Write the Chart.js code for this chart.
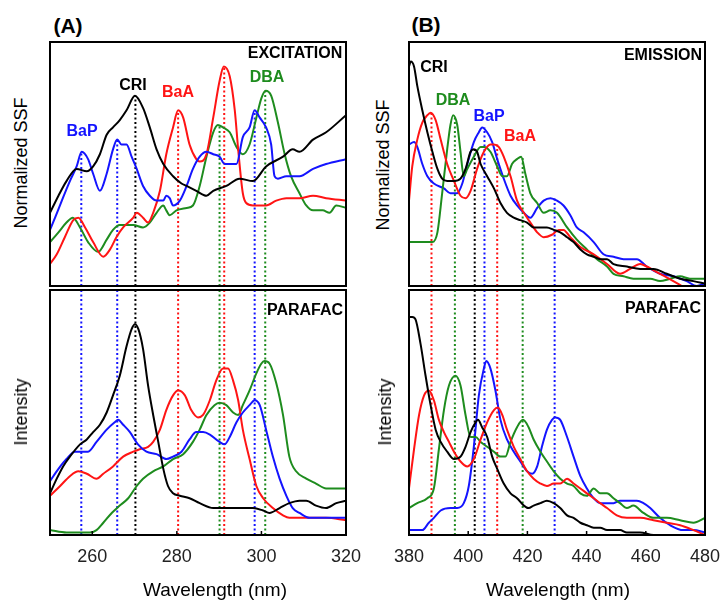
<!DOCTYPE html>
<html>
<head>
<meta charset="utf-8">
<script src="https://cdn.jsdelivr.net/npm/chart.js@4.4.1/dist/chart.umd.min.js"></script>
<style>
  html, body { margin: 0; padding: 0; background: #fff; overflow: hidden; }
  #wrap { position: relative; width: 722px; height: 602px; font-family: "Liberation Sans", Arial, sans-serif; }
  canvas { position: absolute; }
  .t { position: absolute; white-space: nowrap; transform: translate(-50%, -50%); line-height: 1; }
  .b { font-weight: bold; font-size: 16px; }
  .ytitle { font-size: 18px; transform: translate(-50%, -50%) rotate(-90deg); }
  .xtitle { font-size: 19px; }
  .panel { font-weight: bold; font-size: 21px; }
</style>
</head>
<body>
<div id="wrap">
  <canvas id="exTop" width="304" height="252" style="left:46px;top:38px"></canvas>
  <canvas id="exBot" width="336" height="299" style="left:30px;top:286px"></canvas>
  <canvas id="emTop" width="304" height="252" style="left:405px;top:38px"></canvas>
  <canvas id="emBot" width="336" height="299" style="left:389px;top:286px"></canvas>

  <div class="t panel" style="left:68px;top:25px">(A)</div>
  <div class="t panel" style="left:426px;top:24px">(B)</div>

  <div class="t ytitle" style="left:21px;top:163px">Normalized SSF</div>
  <div class="t ytitle" style="left:21px;top:412px">Intensity</div>
  <div class="t ytitle" style="left:383px;top:165px">Normalized SSF</div>
  <div class="t ytitle" style="left:385px;top:412px">Intensity</div>

  <div class="t xtitle" style="left:215px;top:589px">Wavelength (nm)</div>
  <div class="t xtitle" style="left:558px;top:589px">Wavelength (nm)</div>

  <div class="t b" style="left:295px;top:53px">EXCITATION</div>
  <div class="t b" style="left:663px;top:55px">EMISSION</div>
  <div class="t b" style="left:305px;top:310px">PARAFAC</div>
  <div class="t b" style="left:663px;top:308px">PARAFAC</div>

  <div class="t b" style="left:133px;top:85px;color:#000">CRI</div>
  <div class="t b" style="left:178px;top:92px;color:#ff1414">BaA</div>
  <div class="t b" style="left:267px;top:77px;color:#1e8c1e">DBA</div>
  <div class="t b" style="left:82px;top:131px;color:#1414ff">BaP</div>

  <div class="t b" style="left:434px;top:67px;color:#000">CRI</div>
  <div class="t b" style="left:453px;top:100px;color:#1e8c1e">DBA</div>
  <div class="t b" style="left:489px;top:116px;color:#1414ff">BaP</div>
  <div class="t b" style="left:520px;top:136px;color:#ff1414">BaA</div>
</div>
<script>
// ---- Excitation, normalized SSF (top A) : [wavelength nm, relative value] ----
const exTopCRI = [[250,0.30],[252,0.37],[253.9,0.43],[256.3,0.48],[258.7,0.47],[260.2,0.49],[261.8,0.54],[263.4,0.62],[264.9,0.65],[266.5,0.68],[268.1,0.72],[270.1,0.78],[272,0.73],[273.6,0.65],[275.2,0.56],[276.8,0.50],[279.1,0.45],[281.1,0.42],[282.3,0.41],[284.6,0.39],[287,0.37],[288.6,0.39],[291.7,0.41],[294.8,0.44],[298,0.43],[301.1,0.49],[305.1,0.53],[307.4,0.56],[309,0.55],[312.2,0.60],[315.3,0.63],[320,0.70]];
const exTopBaP = [[250,0.23],[251.2,0.28],[252.8,0.35],[254.7,0.43],[256.3,0.49],[257.5,0.55],[259,0.52],[260.2,0.46],[261.8,0.39],[263.4,0.46],[264.9,0.56],[265.9,0.60],[266.9,0.58],[268.1,0.58],[269.3,0.53],[270.5,0.48],[272,0.41],[273.6,0.37],[275.2,0.35],[276.8,0.35],[277.5,0.37],[278.3,0.36],[279.1,0.33],[280.7,0.35],[282.3,0.41],[283.8,0.48],[285.4,0.53],[287,0.55],[288.6,0.54],[290.1,0.53],[291.3,0.50],[292.5,0.50],[294.1,0.50],[295.6,0.61],[297.2,0.65],[298.4,0.72],[299.6,0.69],[301.1,0.65],[302.3,0.58],[303.1,0.45],[303.9,0.44],[305.9,0.45],[309,0.45],[312.2,0.48],[315.3,0.50],[320,0.52]];
const exTopBaA = [[250,0.09],[251.6,0.13],[253.5,0.20],[255.5,0.27],[256.7,0.28],[258.3,0.24],[260.2,0.18],[262.6,0.12],[264.2,0.15],[265.7,0.20],[267.3,0.24],[269.7,0.28],[270.5,0.30],[272,0.28],[273.2,0.26],[274.4,0.30],[276,0.39],[277.5,0.54],[279.1,0.65],[280.3,0.72],[281.5,0.69],[283,0.58],[284.6,0.52],[285.4,0.51],[287,0.54],[288.6,0.69],[290.1,0.84],[291.1,0.90],[292.5,0.86],[293.7,0.72],[294.5,0.56],[295.6,0.38],[296.4,0.34],[298,0.33],[301.1,0.33],[303.5,0.35],[305.9,0.36],[309,0.36],[312.2,0.37],[315.3,0.36],[320,0.35]];
const exTopDBA = [[250,0.18],[252,0.22],[253.9,0.26],[255.4,0.28],[257.1,0.24],[259,0.18],[261.4,0.14],[263.4,0.19],[264.9,0.23],[266.5,0.25],[269.7,0.25],[272,0.24],[273.6,0.26],[275.2,0.30],[276.8,0.33],[277.5,0.31],[278.3,0.29],[279.9,0.31],[282.3,0.32],[283.8,0.33],[285.4,0.41],[287,0.53],[288.6,0.63],[289.7,0.66],[290.9,0.65],[292.5,0.63],[294.1,0.57],[295.6,0.54],[297.2,0.58],[298.8,0.69],[300,0.77],[301,0.80],[302.3,0.78],[303.9,0.67],[305.5,0.54],[307,0.45],[309,0.38],[310.6,0.33],[312.2,0.31],[314.5,0.31],[316.1,0.30],[317.7,0.33],[320,0.32]];

// ---- Excitation, PARAFAC (bottom A) ----
const exBotCRI = [[250,0.17],[251.6,0.23],[253.1,0.28],[254.7,0.32],[257.1,0.37],[258.7,0.39],[260.2,0.42],[261.8,0.45],[263.4,0.50],[264.9,0.57],[266.5,0.65],[268.1,0.77],[269.3,0.84],[270.1,0.86],[270.9,0.84],[272,0.76],[273.2,0.61],[274.4,0.49],[275.6,0.38],[276.8,0.27],[277.9,0.20],[279.1,0.17],[280.7,0.16],[283,0.15],[285.4,0.13],[288.6,0.11],[291.7,0.11],[294.8,0.11],[298,0.11],[300.4,0.10],[301.9,0.09],[304.3,0.11],[306.6,0.13],[309,0.14],[310.6,0.14],[312.9,0.12],[315.3,0.11],[317.7,0.13],[320,0.14]];
const exBotBaP = [[250,0.22],[252,0.27],[253.9,0.31],[255.9,0.34],[257.5,0.34],[259,0.34],[261,0.38],[263.4,0.43],[265.3,0.46],[266.1,0.47],[267.3,0.45],[268.9,0.42],[270.8,0.37],[272.8,0.34],[275.2,0.33],[277.5,0.31],[279.1,0.32],[281.1,0.34],[283,0.39],[284.6,0.42],[286.2,0.42],[287.8,0.41],[290.1,0.38],[291.3,0.37],[292.5,0.40],[294.1,0.46],[295.6,0.50],[297.2,0.53],[298.4,0.55],[299.6,0.53],[301.1,0.43],[302.7,0.32],[304.3,0.23],[305.9,0.16],[307.4,0.11],[309,0.09],[311.4,0.07],[313.7,0.07],[316.9,0.07],[320,0.07]];
const exBotBaA = [[250,0.16],[252.4,0.20],[254.7,0.24],[256.7,0.26],[258.7,0.25],[261,0.23],[262.6,0.25],[264.9,0.28],[267.3,0.32],[269.7,0.34],[271.2,0.35],[273.2,0.36],[274.4,0.38],[276,0.43],[277.5,0.51],[279.1,0.57],[280.3,0.59],[281.9,0.57],[283.4,0.51],[285,0.48],[286.2,0.49],[287.8,0.55],[289.3,0.63],[290.9,0.68],[292.1,0.68],[293.3,0.63],[294.5,0.55],[295.6,0.43],[297.2,0.31],[298.8,0.20],[300.4,0.15],[302.7,0.11],[305.1,0.08],[306.6,0.07],[309,0.07],[312.2,0.07],[315.3,0.07],[320,0.06]];
const exBotDBA = [[250,0.02],[253.9,0.01],[257.1,0.01],[259.4,0.01],[261,0.02],[262.6,0.05],[264.6,0.09],[266.5,0.12],[268.5,0.15],[270.5,0.20],[272,0.23],[274.4,0.26],[276.8,0.28],[279.1,0.31],[281.5,0.33],[283.8,0.38],[285.4,0.43],[287,0.49],[288.9,0.53],[290.1,0.54],[291.7,0.53],[293.3,0.50],[294.5,0.49],[295.6,0.53],[297.2,0.59],[298.8,0.66],[300,0.70],[300.7,0.71],[301.9,0.70],[303.5,0.62],[305.1,0.49],[306.6,0.32],[308.2,0.26],[310.6,0.23],[312.9,0.21],[315.3,0.19],[317.7,0.19],[320,0.19]];

// ---- Emission, normalized SSF (top B) ----
const emTopCRI = [[380,0.90],[380.6,0.92],[381.7,0.90],[382.8,0.82],[384.5,0.72],[386.2,0.63],[387.9,0.55],[389.6,0.48],[391.2,0.44],[392.9,0.43],[395.2,0.43],[397.4,0.44],[399.1,0.48],[400.8,0.55],[401.9,0.56],[403,0.55],[404.2,0.50],[406.4,0.45],[408.7,0.40],[410.9,0.34],[413.1,0.30],[415.4,0.28],[417.6,0.27],[419.9,0.26],[422.1,0.24],[424.4,0.24],[426.6,0.24],[428.9,0.23],[431.1,0.22],[433.4,0.20],[435.6,0.18],[437.9,0.15],[440.1,0.13],[442.4,0.12],[444.6,0.11],[446.9,0.11],[449.1,0.09],[453.6,0.08],[458.1,0.07],[462.6,0.07],[467.1,0.05],[471.6,0.03],[476.1,0.02],[480,0.01]];
const emTopBaA = [[380,0.35],[381.1,0.49],[382.8,0.60],[384.5,0.67],[386.2,0.70],[387.3,0.71],[389,0.68],[390.7,0.60],[392.9,0.50],[395.2,0.43],[397.4,0.37],[399.1,0.36],[400.8,0.39],[403,0.48],[405.3,0.55],[407.5,0.58],[408.7,0.58],[410.3,0.57],[412,0.53],[414.3,0.45],[416.5,0.35],[418.8,0.30],[421,0.26],[423.3,0.22],[425.5,0.20],[428.3,0.21],[430.6,0.23],[432.2,0.23],[434.5,0.20],[437.9,0.16],[442.4,0.13],[446.9,0.09],[451.3,0.05],[454.7,0.07],[458.1,0.09],[460.3,0.08],[464.8,0.05],[469.3,0.02],[472.2,0.00]];
const emTopDBA = [[380,0.18],[383.9,0.18],[387.9,0.18],[389.6,0.22],[391.2,0.38],[392.9,0.56],[394,0.66],[394.9,0.70],[396.3,0.66],[397.4,0.55],[398.5,0.45],[399.7,0.48],[401.9,0.53],[404.2,0.57],[405.3,0.57],[407.5,0.55],[409.8,0.49],[411.5,0.45],[413.1,0.45],[414.8,0.50],[416.5,0.52],[417.9,0.53],[419.3,0.46],[421,0.38],[423.3,0.34],[425.5,0.30],[427.8,0.31],[430,0.30],[433.4,0.24],[436.7,0.19],[440.1,0.15],[443.5,0.11],[446.9,0.08],[449.1,0.05],[452.5,0.04],[455.8,0.03],[458.1,0.03],[461.5,0.03],[464.8,0.02],[468.2,0.03],[471.6,0.04],[474.9,0.03],[480,0.03]];
const emTopBaP = [[380,0.58],[381.7,0.59],[382.8,0.57],[384.5,0.50],[386.2,0.45],[388.4,0.42],[391.8,0.40],[394,0.38],[396.3,0.38],[398,0.42],[399.7,0.50],[401.9,0.59],[403.6,0.63],[404.7,0.65],[406.4,0.63],[408.1,0.59],[409.8,0.52],[412,0.44],[414.3,0.37],[416.5,0.33],[418.8,0.30],[421,0.28],[423.3,0.32],[425.5,0.35],[427.8,0.36],[430,0.35],[432.2,0.33],[434.5,0.29],[436.7,0.24],[439,0.22],[442.4,0.18],[445.7,0.13],[449.1,0.12],[452.5,0.11],[454.7,0.11],[457,0.11],[460.3,0.08],[464.8,0.05],[469.3,0.04],[473.8,0.02],[477.2,0.00],[480,0.01]];

// ---- Emission, PARAFAC (bottom B) ----
const emBotCRI = [[380.3,0.89],[381.1,0.89],[382.2,0.88],[383.9,0.78],[385.6,0.65],[387.3,0.53],[389,0.43],[390.7,0.38],[392.9,0.34],[395.2,0.31],[397.4,0.32],[399.1,0.36],[400.8,0.42],[402.5,0.46],[403.3,0.47],[404.7,0.44],[406.4,0.40],[408.1,0.32],[409.8,0.27],[412,0.21],[414.3,0.17],[416.5,0.15],[418.8,0.12],[420.4,0.11],[422.1,0.12],[424.4,0.13],[426.6,0.14],[428.9,0.13],[431.1,0.11],[433.4,0.08],[435.6,0.07],[437.9,0.05],[440.1,0.04],[442.4,0.03],[444.6,0.03],[446.9,0.02],[449.1,0.02],[451.3,0.02],[453.6,0.01],[458.1,0.01],[462.6,0.00],[471.6,0.00],[480,0.00]];
const emBotBaA = [[380,0.19],[381.7,0.35],[383.4,0.49],[385.1,0.57],[386.7,0.59],[388.4,0.55],[390.1,0.47],[391.8,0.42],[393.5,0.38],[395.2,0.34],[397.4,0.30],[399.7,0.28],[401.9,0.31],[404.2,0.39],[406.4,0.46],[408.7,0.51],[410,0.52],[411.5,0.49],[413.1,0.43],[415.4,0.36],[417.6,0.31],[419.9,0.26],[422.1,0.23],[424.4,0.21],[426.6,0.20],[428.9,0.21],[431.1,0.21],[433.4,0.23],[435.6,0.21],[437.9,0.19],[440.1,0.17],[442.4,0.15],[444.6,0.13],[446.9,0.11],[450.2,0.08],[453.6,0.07],[458.1,0.07],[462.6,0.06],[467.1,0.05],[471.6,0.04],[476.1,0.02],[480,0.00]];
const emBotDBA = [[380,0.11],[382.8,0.13],[386.2,0.15],[388.4,0.19],[390.1,0.35],[391.8,0.51],[393.5,0.61],[395.7,0.65],[397.4,0.61],[399.1,0.49],[400.8,0.40],[402.5,0.40],[404.2,0.38],[406.4,0.36],[408.7,0.34],[410.9,0.32],[412.6,0.32],[414.3,0.38],[416.5,0.44],[418.5,0.47],[420.4,0.44],[422.1,0.39],[424.4,0.34],[426.6,0.30],[428.9,0.26],[431.1,0.23],[433.4,0.21],[435.6,0.20],[437.9,0.17],[440.1,0.16],[442.4,0.19],[444.6,0.17],[446.9,0.17],[449.1,0.15],[451.3,0.13],[453.6,0.11],[455.8,0.12],[459.2,0.09],[462.6,0.07],[467.1,0.07],[471.6,0.06],[476.1,0.05],[480,0.07]];
const emBotBaP = [[380,0.02],[382.8,0.02],[384.5,0.02],[386.7,0.05],[388.4,0.07],[390.7,0.10],[394,0.11],[396.3,0.11],[398.5,0.13],[400.2,0.20],[401.9,0.36],[403.6,0.57],[405.3,0.68],[406.1,0.71],[407.5,0.68],[409.2,0.59],[410.9,0.47],[413.1,0.39],[415.4,0.34],[417.6,0.30],[419.9,0.26],[421.6,0.25],[423.3,0.28],[424.9,0.36],[426.6,0.43],[428.3,0.47],[429.4,0.48],[431.1,0.47],[433.4,0.40],[435.6,0.32],[437.9,0.24],[440.1,0.19],[442.4,0.15],[444.6,0.13],[446.9,0.13],[449.1,0.13],[451.3,0.14],[453.6,0.14],[457,0.14],[459.2,0.13],[461.5,0.11],[464.8,0.07],[468.2,0.04],[472.7,0.02],[476.1,0.02],[480,0.01]];

// ---- Peak markers (dotted lines) ----
const exPeakNm     = [257.4, 265.9, 270.2, 280.3, 290.1, 291.2, 298.4, 300.9];
const exPeakSeries = ['BaP', 'BaP', 'CRI', 'BaA', 'DBA', 'BaA', 'BaP', 'DBA'];
const exPeakTop    = [0.55, 0.60, 0.78, 0.72, 0.66, 0.90, 0.72, 0.80];
const emPeakNm     = [387.6, 395.5, 402.2, 405.5, 409.8, 418.4, 429.2];
const emPeakSeries = ['BaA', 'DBA', 'CRI', 'BaP', 'BaA', 'DBA', 'BaP'];
const emPeakTop    = [0.71, 0.70, 0.56, 0.65, 0.58, 0.53, 0.36];

const exTicks = [260, 280, 300, 320];
const emTicks = [380, 400, 420, 440, 460, 480];

const colors = { CRI: '#000000', BaA: '#ff1414', DBA: '#1e8c1e', BaP: '#1414ff' };
const FONT = '"Liberation Sans", Arial, sans-serif';

// frame box + small inward ticks
const framePlugin = {
  id: 'frame',
  afterDatasetsDraw(chart, args, opts) {
    const { ctx, chartArea: a } = chart;
    const x = chart.scales.x;
    ctx.save();
    ctx.strokeStyle = '#000';
    ctx.lineWidth = 2;
    ctx.strokeRect(a.left, a.top, a.right - a.left, a.bottom - a.top);
    if (opts.ticks) {
      ctx.lineWidth = 1.5;
      opts.ticks.forEach(v => {
        const px = x.getPixelForValue(v);
        ctx.beginPath();
        ctx.moveTo(px, a.bottom);
        ctx.lineTo(px, a.bottom - 4);
        ctx.stroke();
      });
    }
    ctx.restore();
  }
};

function curve(name, pts) {
  return {
    data: pts.map(p => ({ x: p[0], y: p[1] })),
    borderColor: colors[name],
    borderWidth: 2,
    pointRadius: 0,
    cubicInterpolationMode: 'monotone',
    fill: false
  };
}

function marker(nm, name, top) {
  return {
    data: [{ x: nm, y: 0 }, { x: nm, y: top }],
    borderColor: colors[name],
    borderWidth: 2,
    borderDash: [2, 2.5],
    pointRadius: 0,
    tension: 0,
    clip: false
  };
}

function makeChart(id, series, peakNm, peakSeries, peakTop, xmin, xmax, ticks, showX) {
  const datasets = [];
  series.forEach(s => datasets.push(curve(s[0], s[1])));
  peakNm.forEach((nm, i) => datasets.push(marker(nm, peakSeries[i], peakTop ? peakTop[i] : 1)));
  new Chart(document.getElementById(id), {
    type: 'line',
    data: { datasets },
    options: {
      responsive: false,
      maintainAspectRatio: false,
      animation: false,
      layout: { padding: showX ? { left: 20, right: 20, top: 4, bottom: 0 } : 4 },
      plugins: { legend: { display: false }, tooltip: { enabled: false }, frame: { ticks: showX ? ticks : null } },
      scales: {
        x: {
          type: 'linear', min: xmin, max: xmax,
          display: showX,
          grid: { display: false, drawTicks: false },
          border: { display: false },
          afterBuildTicks: sc => { sc.ticks = ticks.map(v => ({ value: v })); },
          afterFit: sc => {
            if (showX) sc.height = 50;
            sc.paddingLeft = 0;
            sc.paddingRight = 0;
          },
          ticks: { color: '#222', font: { family: FONT, size: 18 }, padding: 11, maxRotation: 0 }
        },
        y: { min: 0, max: 1, display: false }
      }
    },
    plugins: [framePlugin]
  });
}

makeChart('exTop', [['CRI', exTopCRI], ['BaP', exTopBaP], ['BaA', exTopBaA], ['DBA', exTopDBA]],
  exPeakNm, exPeakSeries, exPeakTop, 250, 320, exTicks, false);
makeChart('exBot', [['CRI', exBotCRI], ['BaP', exBotBaP], ['BaA', exBotBaA], ['DBA', exBotDBA]],
  exPeakNm, exPeakSeries, null, 250, 320, exTicks, true);
makeChart('emTop', [['CRI', emTopCRI], ['BaA', emTopBaA], ['DBA', emTopDBA], ['BaP', emTopBaP]],
  emPeakNm, emPeakSeries, emPeakTop, 380, 480, emTicks, false);
makeChart('emBot', [['CRI', emBotCRI], ['BaA', emBotBaA], ['DBA', emBotDBA], ['BaP', emBotBaP]],
  emPeakNm, emPeakSeries, null, 380, 480, emTicks, true);
</script>
</body>
</html>
